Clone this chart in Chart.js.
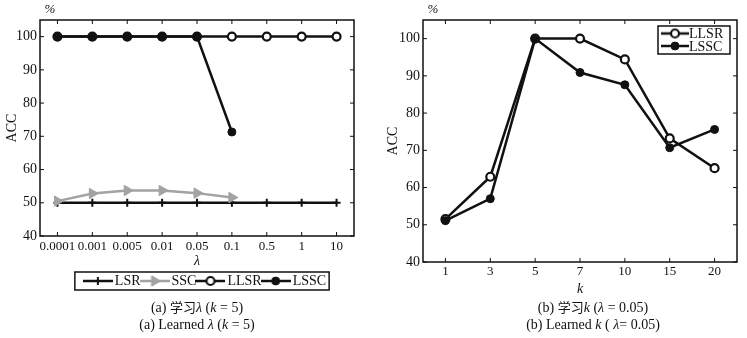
<!DOCTYPE html>
<html>
<head>
<meta charset="utf-8">
<script src="https://cdn.jsdelivr.net/npm/chart.js@4.4.0/dist/chart.umd.min.js"></script>
<style>
  body { margin: 0; background: #fff; width: 747px; height: 338px; position: relative; overflow: hidden; font-family: "Liberation Serif", "DejaVu Serif", serif; color: #111; }
  .wrap { position: absolute; top: 0; height: 298px; }
  #wa { left: 0; width: 370px; }
  #wb { left: 375px; width: 372px; }
  .cap { position: absolute; top: 298px; width: 240px; font-family: "Liberation Serif", "DejaVu Serif", serif; font-size: 14px; line-height: 17px; text-align: center; white-space: nowrap; }
  .cjk { font-family: "Noto Sans CJK SC", sans-serif; font-size: 13px; }
</style>
</head>
<body>
<div class="wrap" id="wa"><canvas id="chartA"></canvas></div>
<div class="wrap" id="wb"><canvas id="chartB"></canvas></div>
<div class="cap" style="left:77px">(a) <span class="cjk">学习</span><i>λ</i> (<i>k</i> = 5)<br>(a) Learned <i>λ</i> (<i>k</i> = 5)</div>
<div class="cap" style="left:473px">(b) <span class="cjk">学习</span><i>k</i> (<i>λ</i> = 0.05)<br>(b) Learned <i>k</i> ( <i>λ</i>= 0.05)</div>
<script>
// data
const lambdaLabels = ["0.0001", "0.001", "0.005", "0.01", "0.05", "0.1", "0.5", "1", "10"];
const lsrA = [50, 50, 50, 50, 50, 50, 50, 50, 50];
const sscA = [50.5, 52.8, 53.7, 53.7, 52.9, 51.6, null, null, null];
const llsrA = [100, 100, 100, 100, 100, 100, 100, 100, 100];
const lsscA = [100, 100, 100, 100, 100, 71.3, null, null, null];

const kLabels = ["1", "3", "5", "7", "10", "15", "20"];
const llsrB = [51.5, 62.9, 100, 100, 94.4, 73.2, 65.2];
const lsscB = [51.1, 57.0, 100, 90.9, 87.6, 70.7, 75.6];

const yMin = 40, yMax = 105, yStep = 10;

const FONT = "'Liberation Serif', 'DejaVu Serif', serif";
const INK = "#111";
const GREY = "#a3a3a3";

// series styles
function lsrStyle(data) {
  return { label: "LSR", data, borderColor: INK, backgroundColor: INK, borderWidth: 2.5,
    pointStyle: "cross", pointRadius: 4, pointBorderWidth: 2, pointBorderColor: INK, pointBackgroundColor: INK, order: 3 };
}
function sscStyle(data) {
  return { label: "SSC", data, borderColor: GREY, backgroundColor: GREY, borderWidth: 2.5,
    pointStyle: "triangle", pointRotation: 90, pointRadius: 6, pointBorderWidth: 1, pointBorderColor: GREY, pointBackgroundColor: GREY, order: 2 };
}
function llsrStyle(data) {
  return { label: "LLSR", data, borderColor: INK, backgroundColor: "#fff", borderWidth: 2.5,
    pointStyle: "circle", pointRadius: 4, pointBorderWidth: 2.2, pointBorderColor: INK, pointBackgroundColor: "#fff", order: 1 };
}
function lsscStyle(data) {
  return { label: "LSSC", data, borderColor: INK, backgroundColor: INK, borderWidth: 2.5,
    pointStyle: "circle", pointRadius: 4, pointBorderWidth: 1, pointBorderColor: INK, pointBackgroundColor: INK, order: 0 };
}

// little line+marker picture used as a legend symbol
function sample(ds, w) {
  const c = document.createElement("canvas");
  c.width = w; c.height = 14;
  const g = c.getContext("2d");
  g.strokeStyle = ds.borderColor; g.lineWidth = 2.5;
  g.beginPath(); g.moveTo(0, 7); g.lineTo(w, 7); g.stroke();
  g.fillStyle = ds.pointBackgroundColor; g.strokeStyle = ds.pointBorderColor; g.lineWidth = ds.pointBorderWidth;
  Chart.helpers.drawPoint(g, { pointStyle: ds.pointStyle, radius: ds.pointRadius, rotation: ds.pointRotation || 0, borderWidth: ds.pointBorderWidth }, w / 2, 7);
  return c;
}

// frame, inward ticks and the % unit
const frame = {
  id: "frame",
  afterLayout(chart) {
    // legend of chart (a) sits right of centre
    const lg = chart.legend;
    if (lg && lg.options.display) { lg.left += 30; lg.right += 30; }
  },
  afterDraw(chart) {
    const { ctx, chartArea: a, scales } = chart;
    ctx.save();
    ctx.strokeStyle = INK; ctx.lineWidth = 1.5;
    ctx.strokeRect(a.left, a.top, a.right - a.left, a.bottom - a.top);
    ctx.lineWidth = 1;
    ctx.beginPath();
    scales.x.ticks.forEach((t, i) => {
      const x = scales.x.getPixelForTick(i);
      ctx.moveTo(x, a.bottom); ctx.lineTo(x, a.bottom - 4);
      ctx.moveTo(x, a.top); ctx.lineTo(x, a.top + 4);
    });
    scales.y.ticks.forEach(t => {
      if (t.value % yStep !== 0) return;
      const y = scales.y.getPixelForValue(t.value);
      ctx.moveTo(a.left, y); ctx.lineTo(a.left + 4, y);
      ctx.moveTo(a.right, y); ctx.lineTo(a.right - 4, y);
    });
    ctx.stroke();
    ctx.fillStyle = INK;
    ctx.font = "italic 13px " + FONT;
    ctx.textAlign = "center"; ctx.textBaseline = "middle";
    ctx.fillText("%", a.left + 10, 10);

    // box round the legend below chart (a)
    const lg = chart.legend;
    if (lg && lg.options.display && lg.legendHitBoxes && lg.legendHitBoxes.length) {
      const hb = lg.legendHitBoxes;
      const l = Math.min(...hb.map(h => h.left)) - 13;
      const r = Math.max(...hb.map(h => h.left + h.width)) + 3;
      const cy = hb[0].top + hb[0].height / 2;
      ctx.lineWidth = 1.5;
      ctx.strokeRect(l, cy - 9, r - l, 18);
    }

    // boxed legend inside chart (b)
    if (chart.options.plugins.innerLegend) {
      const w = 72, h = 28;
      const x0 = a.right - 7 - w, y0 = a.top + 6;
      ctx.lineWidth = 1.5;
      ctx.strokeRect(x0, y0, w, h);
      ctx.font = "14px " + FONT;
      ctx.textAlign = "left";
      chart.data.datasets.forEach((ds, i) => {
        const yc = y0 + 7.5 + i * 12.5;
        ctx.drawImage(sample(ds, 28), x0 + 3, yc - 7);
        ctx.fillText(ds.label, x0 + 31, yc + 1);
      });
    }
    ctx.restore();
  }
};

function yAxis(width, titlePad) {
  return {
    min: yMin, max: yMax,
    grid: { display: false, drawTicks: false }, border: { display: false },
    ticks: { stepSize: yStep, padding: 3, color: INK, font: { family: FONT, size: 14 },
      callback: v => (v % yStep === 0 ? v : "") },
    title: { display: true, text: "ACC", color: INK, font: { family: FONT, size: 14 }, padding: { top: titlePad, bottom: 0 } },
    afterFit: s => { s.width = width; }
  };
}
function xAxis(title, height, pad, titleBottom) {
  return {
    offset: true,
    grid: { display: false, drawTicks: false }, border: { display: false },
    ticks: { padding: pad, color: INK, font: { family: FONT, size: 13 }, autoSkip: false, maxRotation: 0 },
    title: { display: true, text: title, color: INK, font: { family: FONT, size: 14, style: "italic" }, padding: { top: 0, bottom: titleBottom } },
    afterFit: s => { s.height = height; }
  };
}

new Chart(document.getElementById("chartA"), {
  type: "line",
  data: {
    labels: lambdaLabels,
    datasets: [lsrStyle(lsrA), sscStyle(sscA), llsrStyle(llsrA), lsscStyle(lsscA)]
  },
  options: {
    responsive: true, maintainAspectRatio: false, animation: false,
    layout: { padding: { top: 20, right: 16, left: 0, bottom: 0 } },
    scales: { x: xAxis("λ", 34, 3, 0), y: yAxis(40, 4) },
    plugins: {
      tooltip: { enabled: false },
      legend: {
        position: "bottom",
        labels: {
          color: INK, font: { family: FONT, size: 14 }, usePointStyle: true, pointStyleWidth: 20, padding: 4,
          sort: (a, b) => a.datasetIndex - b.datasetIndex,
          generateLabels: chart => Chart.defaults.plugins.legend.labels.generateLabels(chart).map(it => {
            it.pointStyle = sample(chart.data.datasets[it.datasetIndex], 30);
            it.rotation = 0;
            return it;
          })
        }
      }
    }
  },
  plugins: [frame]
});

new Chart(document.getElementById("chartB"), {
  type: "line",
  data: {
    labels: kLabels,
    datasets: [llsrStyle(llsrB), lsscStyle(lsscB)]
  },
  options: {
    responsive: true, maintainAspectRatio: false, animation: false,
    layout: { padding: { top: 20, right: 10, left: 0, bottom: 0 } },
    scales: { x: xAxis("k", 36, 2, 0), y: yAxis(48, 10) },
    plugins: { tooltip: { enabled: false }, legend: { display: false }, innerLegend: true }
  },
  plugins: [frame]
});
</script>
</body>
</html>
